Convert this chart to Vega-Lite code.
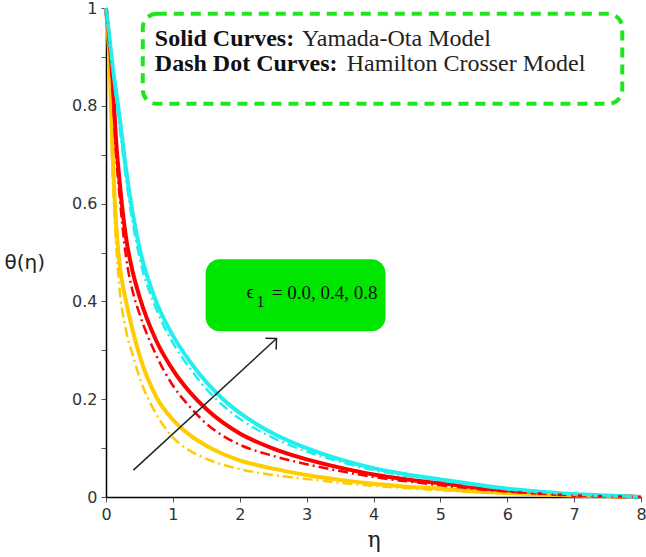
{
  "$schema": "https://vega.github.io/schema/vega-lite/v6.json",
  "width": 535,
  "height": 489,
  "autosize": {"type": "none"},
  "padding": {"left": 106, "top": 8, "right": 5, "bottom": 60},
  "background": "white",
  "config": {"view": {"stroke": null}},
  "datasets": {
    "curves": [
      {"eta": 0, "s0": 1, "d0": 1, "s4": 1, "d4": 1, "s8": 1, "d8": 1},
      {"eta": 0.05, "s0": 0.9, "d0": 0.88, "s4": 0.93, "d4": 0.92, "s8": 0.94, "d8": 0.935},
      {"eta": 0.1, "s0": 0.7, "d0": 0.66, "s4": 0.85, "d4": 0.82, "s8": 0.88, "d8": 0.87},
      {"eta": 0.15, "s0": 0.56, "d0": 0.52, "s4": 0.73, "d4": 0.7, "s8": 0.83, "d8": 0.815},
      {"eta": 0.2, "s0": 0.48, "d0": 0.43, "s4": 0.65, "d4": 0.62, "s8": 0.78, "d8": 0.76},
      {"eta": 0.3, "s0": 0.4, "d0": 0.34, "s4": 0.53, "d4": 0.49, "s8": 0.67, "d8": 0.65},
      {"eta": 0.4, "s0": 0.34, "d0": 0.29, "s4": 0.46, "d4": 0.42, "s8": 0.58, "d8": 0.56},
      {"eta": 0.5, "s0": 0.29, "d0": 0.245, "s4": 0.41, "d4": 0.375, "s8": 0.51, "d8": 0.49},
      {"eta": 0.75, "s0": 0.205, "d0": 0.17, "s4": 0.32, "d4": 0.29, "s8": 0.4, "d8": 0.385},
      {"eta": 1, "s0": 0.158, "d0": 0.122, "s4": 0.26, "d4": 0.228, "s8": 0.33, "d8": 0.315},
      {"eta": 1.25, "s0": 0.127, "d0": 0.095, "s4": 0.215, "d4": 0.185, "s8": 0.278, "d8": 0.264},
      {"eta": 1.5, "s0": 0.105, "d0": 0.078, "s4": 0.18, "d4": 0.15, "s8": 0.235, "d8": 0.221},
      {"eta": 1.75, "s0": 0.088, "d0": 0.066, "s4": 0.152, "d4": 0.125, "s8": 0.2, "d8": 0.187},
      {"eta": 2, "s0": 0.075, "d0": 0.057, "s4": 0.13, "d4": 0.107, "s8": 0.172, "d8": 0.16},
      {"eta": 2.5, "s0": 0.058, "d0": 0.045, "s4": 0.099, "d4": 0.084, "s8": 0.13, "d8": 0.121},
      {"eta": 3, "s0": 0.045, "d0": 0.037, "s4": 0.077, "d4": 0.067, "s8": 0.1, "d8": 0.093},
      {"eta": 3.5, "s0": 0.035, "d0": 0.029, "s4": 0.06, "d4": 0.053, "s8": 0.077, "d8": 0.072},
      {"eta": 4, "s0": 0.027, "d0": 0.023, "s4": 0.046, "d4": 0.041, "s8": 0.059, "d8": 0.055},
      {"eta": 4.5, "s0": 0.021, "d0": 0.018, "s4": 0.036, "d4": 0.032, "s8": 0.046, "d8": 0.043},
      {"eta": 5, "s0": 0.017, "d0": 0.014, "s4": 0.028, "d4": 0.024, "s8": 0.036, "d8": 0.034},
      {"eta": 5.5, "s0": 0.012, "d0": 0.01, "s4": 0.02, "d4": 0.017, "s8": 0.026, "d8": 0.024},
      {"eta": 6, "s0": 0.008, "d0": 0.007, "s4": 0.013, "d4": 0.011, "s8": 0.017, "d8": 0.016},
      {"eta": 6.5, "s0": 0.005, "d0": 0.004, "s4": 0.008, "d4": 0.007, "s8": 0.011, "d8": 0.01},
      {"eta": 7, "s0": 0.003, "d0": 0.0025, "s4": 0.004, "d4": 0.0035, "s8": 0.006, "d8": 0.0055},
      {"eta": 7.5, "s0": 0.0015, "d0": 0.001, "s4": 0.002, "d4": 0.0015, "s8": 0.003, "d8": 0.0025},
      {"eta": 8, "s0": 0, "d0": 0, "s4": 0, "d4": 0, "s8": 0, "d8": 0}
    ]
  },
  "layer": [
    {
      "data": {"name": "curves"},
      "transform": [
        {"fold": ["s0", "s4", "s8"], "as": ["curve", "theta"]}
      ],
      "mark": {"type": "line", "interpolate": "monotone", "strokeWidth": 4},
      "encoding": {
        "x": {
          "field": "eta", "type": "quantitative",
          "scale": {"domain": [0, 8], "nice": false, "zero": false},
          "axis": {
            "title": "η",
            "values": [0, 0.5, 1, 1.5, 2, 2.5, 3, 3.5, 4, 4.5, 5, 5.5, 6, 6.5, 7, 7.5, 8],
            "format": "~g",
            "labelExpr": "round(datum.value*2) % 2 == 0 ? datum.label : ''",
            "grid": false,
            "domainColor": "#000",
            "domainWidth": 1.5,
            "tickColor": "#555",
            "tickSize": 5,
            "labelFont": "DejaVu Sans",
            "labelFontSize": 16,
            "labelColor": "#333",
            "labelPadding": 4,
            "labelFlush": false,
            "titleFont": "DejaVu Serif",
            "titleFontSize": 22,
            "titleFontWeight": "normal",
            "titleColor": "#222",
            "titleY": 42,
            "titleBaseline": "middle"
          }
        },
        "y": {
          "field": "theta", "type": "quantitative",
          "scale": {"domain": [0, 1], "nice": false},
          "axis": {
            "title": "θ(η)",
            "values": [0, 0.1, 0.2, 0.3, 0.4, 0.5, 0.6, 0.7, 0.8, 0.9, 1],
            "format": "~g",
            "labelExpr": "round(datum.value*10) % 2 == 0 ? datum.label : ''",
            "grid": false,
            "domainColor": "#000",
            "domainWidth": 1.5,
            "tickColor": "#555",
            "tickSize": 5,
            "labelFont": "DejaVu Sans",
            "labelFontSize": 16,
            "labelColor": "#333",
            "labelPadding": 4,
            "labelFlush": false,
            "titleFont": "DejaVu Sans",
            "titleFontSize": 20,
            "titleFontWeight": "normal",
            "titleColor": "#222",
            "titleAngle": 0,
            "titleAlign": "left",
            "titleBaseline": "middle",
            "titleX": -102,
            "titleY": 254
          }
        },
        "color": {
          "field": "curve", "type": "nominal", "legend": null,
          "scale": {"domain": ["s0", "s4", "s8", "d0", "d4", "d8"], "range": ["#FFCC00", "#FF0000", "#22EEEE", "#FFCC00", "#FF0000", "#22EEEE"]}
        }
      }
    },
    {
      "data": {"name": "curves"},
      "transform": [
        {"fold": ["d0", "d4", "d8"], "as": ["curve", "theta"]}
      ],
      "mark": {"type": "line", "interpolate": "monotone", "strokeWidth": 2.5, "strokeDash": [10, 4, 2, 4]},
      "encoding": {
        "x": {"field": "eta", "type": "quantitative"},
        "y": {"field": "theta", "type": "quantitative"},
        "color": {"field": "curve", "type": "nominal", "legend": null}
      }
    },
    {
      "data": {"values": [{"x": 0.55, "x2": 7.72, "y": 0.988, "y2": 0.804}]},
      "mark": {"type": "rect", "fillOpacity": 0, "fill": "white", "stroke": "#1EE61E", "strokeWidth": 4, "strokeDash": [10, 7], "cornerRadius": 14},
      "encoding": {
        "x": {"field": "x", "type": "quantitative"},
        "x2": {"field": "x2"},
        "y": {"field": "y", "type": "quantitative"},
        "y2": {"field": "y2"}
      }
    },
    {
      "data": {"values": [{"x": 1.49, "x2": 4.18, "y": 0.486, "y2": 0.339}]},
      "mark": {"type": "rect", "fill": "#00E600", "cornerRadius": 14},
      "encoding": {
        "x": {"field": "x", "type": "quantitative"},
        "x2": {"field": "x2"},
        "y": {"field": "y", "type": "quantitative"},
        "y2": {"field": "y2"}
      }
    },
    {
      "data": {"values": [
        {"x": 0.73, "y": 0.937, "t": "Solid Curves:"},
        {"x": 0.73, "y": 0.886, "t": "Dash Dot Curves:"}
      ]},
      "mark": {"type": "text", "align": "left", "baseline": "middle", "font": "Liberation Serif", "fontSize": 24, "fontWeight": "bold", "color": "#111"},
      "encoding": {
        "x": {"field": "x", "type": "quantitative"},
        "y": {"field": "y", "type": "quantitative"},
        "text": {"field": "t"}
      }
    },
    {
      "data": {"values": [
        {"x": 2.93, "y": 0.937, "t": "Yamada-Ota Model"},
        {"x": 3.6, "y": 0.886, "t": "Hamilton Crosser Model"}
      ]},
      "mark": {"type": "text", "align": "left", "baseline": "middle", "font": "Liberation Serif", "fontSize": 24, "color": "#222"},
      "encoding": {
        "x": {"field": "x", "type": "quantitative"},
        "y": {"field": "y", "type": "quantitative"},
        "text": {"field": "t"}
      }
    },
    {
      "data": {"values": [
        {"x": 2.1, "y": 0.42, "t": "ϵ"},
        {"x": 2.48, "y": 0.418, "t": "= 0.0, 0.4, 0.8"}
      ]},
      "mark": {"type": "text", "align": "left", "baseline": "middle", "font": "Liberation Serif", "fontSize": 19, "color": "#111"},
      "encoding": {
        "x": {"field": "x", "type": "quantitative"},
        "y": {"field": "y", "type": "quantitative"},
        "text": {"field": "t"}
      }
    },
    {
      "data": {"values": [{"x": 2.25, "y": 0.398, "t": "1"}]},
      "mark": {"type": "text", "align": "left", "baseline": "middle", "font": "Liberation Serif", "fontSize": 16, "color": "#111"},
      "encoding": {
        "x": {"field": "x", "type": "quantitative"},
        "y": {"field": "y", "type": "quantitative"},
        "text": {"field": "t"}
      }
    },
    {
      "data": {"values": [{"x": 0.41, "y": 0.055, "x2": 2.55, "y2": 0.324}]},
      "mark": {"type": "rule", "color": "#222", "strokeWidth": 1.5},
      "encoding": {
        "x": {"field": "x", "type": "quantitative"},
        "y": {"field": "y", "type": "quantitative"},
        "x2": {"field": "x2"},
        "y2": {"field": "y2"}
      }
    },
    {
      "data": {"values": [{"x": 2.55, "y": 0.324}]},
      "mark": {"type": "point", "shape": "M -0.7 0.7 L 0 0 L 0.7 0.7", "filled": false, "stroke": "#222", "strokeWidth": 1.5, "size": 500, "angle": 47, "opacity": 1},
      "encoding": {
        "x": {"field": "x", "type": "quantitative"},
        "y": {"field": "y", "type": "quantitative"}
      }
    }
  ]
}
